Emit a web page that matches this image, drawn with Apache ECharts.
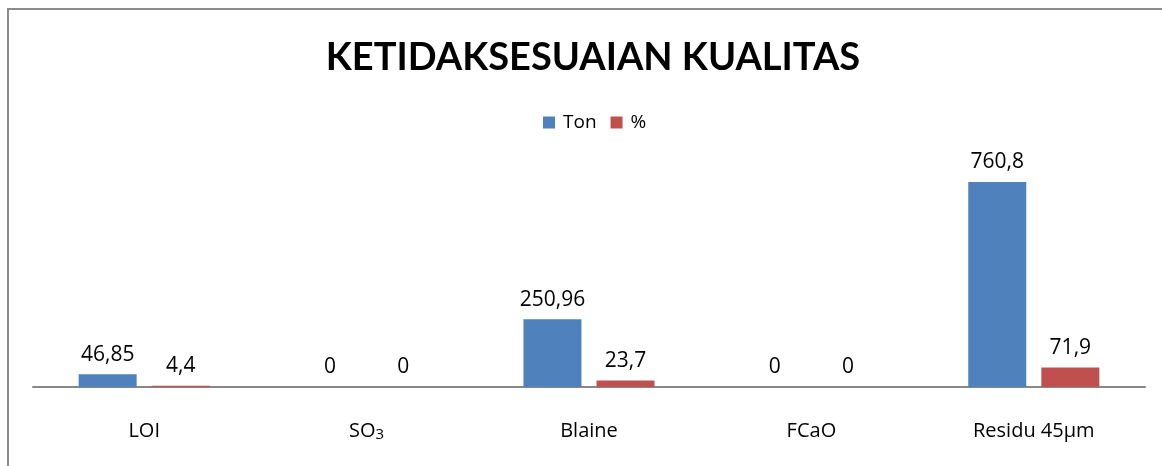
<!DOCTYPE html>
<html><head><meta charset="utf-8">
<script src="https://cdn.jsdelivr.net/npm/echarts@6/dist/echarts.min.js"></script>
<style>html,body{margin:0;padding:0;background:#fff}#c{width:1162px;height:466px}
#frame{position:absolute;left:7px;top:8px;width:1200px;height:500px;border:2px solid #8c8c8c;box-sizing:border-box;pointer-events:none}</style>
</head><body>
<div id="c"></div><div id="frame"></div>
<script>
const categories = ['LOI', 'SO₃', 'Blaine', 'FCaO', 'Residu 45µm'];
const tonValues = [46.85, 0, 250.96, 0, 760.8];
const pctValues = [4.4, 0, 23.7, 0, 71.9];
const seriesNames = ['Ton', '%'];

const FONT = '"Open Sans"';
const chart = echarts.init(document.getElementById('c'));
const fmt = p => String(p.value).replace('.', ',');
const lbl = {show: true, position: 'top', distance: 9, color: '#000', fontFamily: FONT, fontSize: 21, formatter: fmt};
chart.setOption({
  animation: false,
  title: {text: 'KETIDAKSESUAIAN KUALITAS', left: 588, textAlign: 'center', top: 34,
    textStyle: {fontFamily: 'Lato', fontWeight: 'bold', fontSize: 38, color: '#000'}},
  legend: {top: 108, left: 538, itemWidth: 12, itemHeight: 12, itemGap: 14, icon: 'rect',
    textStyle: {fontFamily: FONT, fontSize: 19, color: '#000', padding: [0, 0, 0, 3]}, data: seriesNames},
  grid: {left: 33, right: 17, top: 117.5, bottom: 79},
  xAxis: {type: 'category', data: categories,
    axisLine: {lineStyle: {color: '#888', width: 2}}, axisTick: {show: false},
    axisLabel: {color: '#000', fontFamily: FONT, fontSize: 20, margin: 34,
      formatter: v => v.indexOf('₃') >= 0 ? v.replace('₃', '{s|3}') : v,
      rich: {s: {fontFamily: FONT, fontSize: 15, color: '#000', verticalAlign: 'bottom', padding: [6, 0, 0, 0]}}}},
  yAxis: {type: 'value', min: 0, max: 1000, show: false, splitLine: {show: false}},
  series: [
    {name: seriesNames[0], type: 'bar', data: tonValues, barWidth: 58, barGap: '26%',
      itemStyle: {color: '#4F81BD'}, label: lbl},
    {name: seriesNames[1], type: 'bar', data: pctValues, barWidth: 58,
      itemStyle: {color: '#C0504D'}, label: lbl}
  ]
});
</script></body></html>
